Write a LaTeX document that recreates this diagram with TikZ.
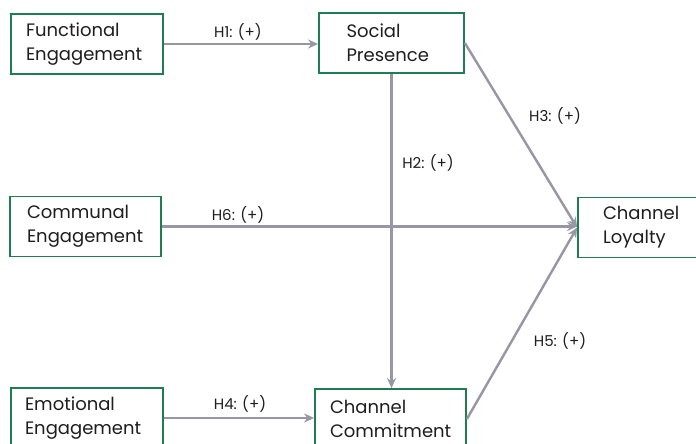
\documentclass[tikz,border=0pt]{standalone}
\usepackage{fontspec}
\setmainfont{Poppins}
\usetikzlibrary{arrows.meta}
\hyphenpenalty=10000
\exhyphenpenalty=10000
\hbadness=10000
\hfuzz=50pt
\definecolor{boxgreen}{RGB}{30,125,82}
\definecolor{arrowgrey}{RGB}{150,150,165}
\definecolor{txt}{RGB}{30,30,30}
\tikzset{
  box/.style={draw=boxgreen, line width=1.8pt, rectangle, align=left, text=txt,
    minimum height=60pt, font=\fontsize{18}{24}\selectfont},
  link/.style={draw=arrowgrey, line width=2.4pt, -{Stealth[length=10pt,width=9pt]}},
  hyp/.style={text=txt, font=\fontsize{15}{17}\selectfont, inner sep=1pt}
}
\begin{document}
\begin{tikzpicture}[x=1pt,y=-1pt]
\clip (0,0) rectangle (696,444);
\fill[white] (0,0) rectangle (696,444);
\node[box, text width=122pt, inner xsep=15pt] (FE) at (87,44) {Functional\\Engagement};
\node[box, text width=110pt, inner xsep=17.5pt] (SP) at (391.5,43) {\hspace*{10pt}Social\\\hspace*{10pt}Presence};
\node[box, text width=121pt, inner xsep=15pt] (CE) at (85.5,226.5) {\hspace*{2pt}Communal\\\hspace*{2pt}Engagement};
\node[box, text width=110pt, inner xsep=13pt] (CL) at (646,227.5) {\hspace*{12pt}Channel\\\hspace*{12pt}Loyalty};
\node[box, text width=124pt, inner xsep=14pt] (EE) at (87,418) {Emotional\\Engagement};
\node[box, text width=125pt, inner xsep=13pt] (CC) at (390.5,419) {\hspace*{2pt}Channel\\\hspace*{2pt}Commitment};

\draw[link] (FE.east) -- (FE.east -| SP.west);
\draw[link] (SP.south) -- (SP.south |- CC.north);
\draw[link] (SP.east) -- (CL.west);
\draw[link] (CE.east) -- (CE.east -| CL.west);
\draw[link] (CC.east) -- (CL.west);
\draw[link] (EE.east) -- (EE.east -| CC.west);

\node[hyp] (h1) at (238,32) {H1: (+)};
\node[hyp] (h2) at (428,163) {H2: (+)};
\node[hyp] (h3) at (555,116) {H3: (+)};
\node[hyp] (h6) at (238,215) {H6: (+)};
\node[hyp] (h4) at (240,404) {H4: (+)};
\node[hyp] (h5) at (560,341) {H5: (+)};
\end{tikzpicture}
\end{document}
